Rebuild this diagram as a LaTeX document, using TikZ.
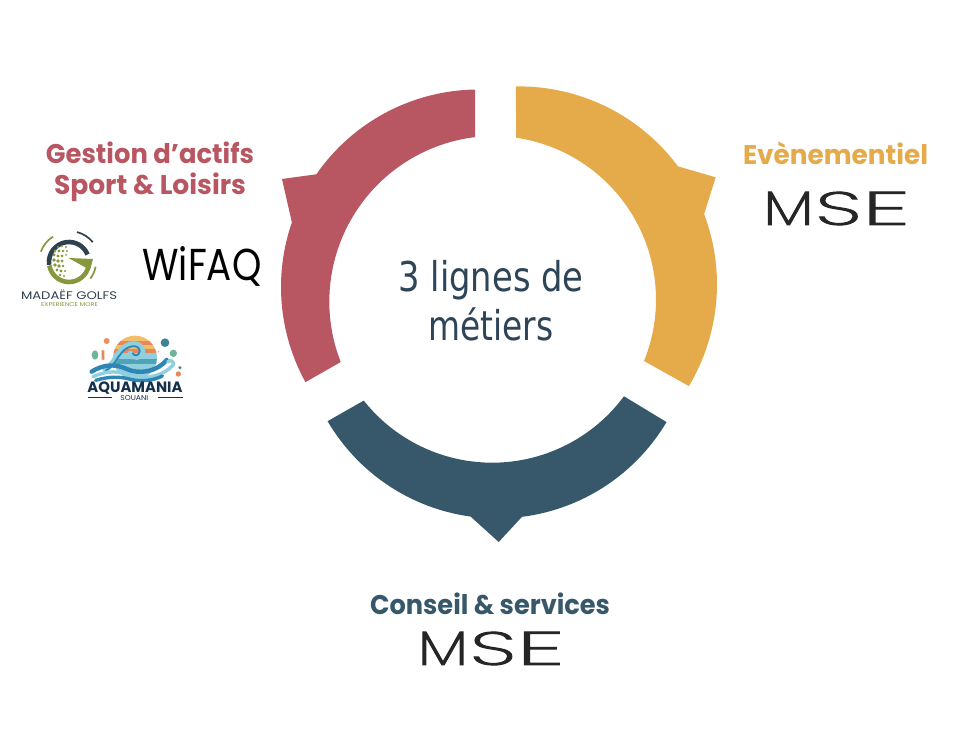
\documentclass[tikz,border=0pt]{standalone}
\usepackage{fontspec}
\usepackage{graphicx}
\newfontfamily\headfont{Poppins}
\newfontfamily\logofont{Poppins ExtraLight}[FakeBold=2]
\newfontfamily\wifont{Poppins}
\newfontfamily\centerfont{DejaVu Sans}
\definecolor{ringred}{HTML}{B85662}
\definecolor{ringorange}{HTML}{E5AA4A}
\definecolor{ringblue}{HTML}{37586B}
\definecolor{slate}{HTML}{2E4457}
\definecolor{olive}{HTML}{87983C}
\definecolor{golfdark}{HTML}{2F4050}
\definecolor{aqdark}{HTML}{14304A}
\definecolor{aqblue}{HTML}{2F86B5}
\definecolor{aqlight}{HTML}{8FD0E0}
\definecolor{aqteal}{HTML}{4FA3B5}
\definecolor{aqorange}{HTML}{E8875A}
\definecolor{aqyellow}{HTML}{F2BE6A}
\definecolor{aqgreen}{HTML}{6DB59A}
\newcommand{\fitw}[2]{\resizebox{#1pt}{\height}{#2}}
\newcommand{\fitwh}[3]{\resizebox{#1pt}{#2pt}{#3}}
\newcommand{\mselogo}{\logofont\fitwh{50}{33}{M}\hspace{2pt}\fitwh{46}{33}{S}\hspace{1pt}\fitwh{47}{33}{E}}
\tikzset{
  head/.style={inner sep=0pt,anchor=center,font=\headfont\bfseries\fontsize{27}{30}\selectfont},
  centertext/.style={inner sep=0pt,anchor=center,text=slate,font=\centerfont\fontsize{41}{46}\selectfont},
  logotext/.style={inner sep=0pt,anchor=center,text=black!85},
  thinarc/.style={line width=1.7pt},
  dot/.style={fill=olive}
}
\begin{document}
\begin{tikzpicture}[x=1pt,y=1pt]
\useasboundingbox (0,0) rectangle (955,740);
\fill[white] (0,0) rectangle (955,740);
% --- ring segments
\coordinate (redOut) at (478.5,453);
\coordinate (redIn) at (495,438.4);
\fill[ringred] (redOut) ++(91:197.5pt) arc[start angle=91,end angle=145.2,radius=197.5pt]
  -- (282,561) -- ([shift={(160.9:197.5pt)}]redOut) arc[start angle=160.9,end angle=208.8,radius=197.5pt]
  -- ([shift={(201.4:165.7pt)}]redIn) arc[start angle=201.4,end angle=96.9,radius=165.7pt] -- cycle;
\coordinate (orgOut) at (519,455.6);
\coordinate (orgIn) at (492.5,440.5);
\fill[ringorange] (orgOut) ++(90.9:198pt) arc[start angle=90.9,end angle=36.6,radius=198pt]
  -- (715.7,562.7) -- ([shift={(20.8:198pt)}]orgOut) arc[start angle=20.8,end angle=-30.9,radius=198pt]
  -- ([shift={(-22.1:163.5pt)}]orgIn) arc[start angle=-22.1,end angle=81.7,radius=163.5pt] -- cycle;
\coordinate (bluOut) at (497.3,418.4);
\coordinate (bluIn) at (492.2,441.2);
\fill[ringblue] (bluOut) ++(210.4:196.8pt) arc[start angle=210.4,end angle=262.2,radius=196.8pt]
  -- (498.7,198) -- ([shift={(277.2:196.8pt)}]bluOut) arc[start angle=277.2,end angle=329.3,radius=196.8pt]
  -- ([shift={(323.5:163.9pt)}]bluIn) arc[start angle=323.5,end angle=218.4,radius=163.9pt] -- cycle;
% --- texts
\node[centertext] (c1) at (491,460) {\fitw{185}{3 lignes de}};
\node[centertext] (c2) at (491,416) {\fitw{125}{métiers}};
\node[head,text=ringred] (h1) at (150,587) {\fitw{208}{Gestion d’actifs}};
\node[head,text=ringred] (h2) at (150,553) {\fitw{192}{Sport \& Loisirs}};
\node[head,text=ringorange] (h3) at (835.5,587) {\fitw{185}{Evènementiel}};
\node[head,text=ringblue] (h4) at (490,136) {\fitw{240}{Conseil \& services}};
% --- MSE logos
\node[logotext] (mse1) at (836.5,531.5) {\mselogo};
\node[logotext] (mse2) at (491,91.5) {\mselogo};
% --- WiFAQ
\node[logotext,text=black] (wifaq) at (202,474) {\wifont\fitwh{119}{34}{WiFAQ}};
% --- Madaef golfs logo
\coordinate (g) at (69,478);
\draw[golfdark,line width=4.6pt] (g) ++(188:20pt) arc[start angle=188,end angle=22,radius=20pt];
\draw[olive,line width=4.6pt] (g) ++(190:20pt) arc[start angle=190,end angle=360,radius=20pt];
\fill[olive] (68.5,482) -- (93,481) -- (90,470) -- cycle;
\draw[golfdark,thinarc] (g) ++(75:31pt) arc[start angle=75,end angle=40,radius=31pt];
\draw[olive,thinarc] (g) ++(122:30pt) arc[start angle=122,end angle=160,radius=30pt];
\draw[olive,thinarc] (g) ++(-10:27pt) arc[start angle=-10,end angle=-38,radius=27pt];
\foreach \x/\y/\r in {58/493/1.2,62/494/1.2,66/493/1.1,55/489/1.5,59/489/1.6,63/489/1.4,67/489/1.1,54/485/1.7,58/484/1.7,62/484/1.5,66/485/1,54/480/1.8,58/479/1.8,62/479/1.5,55/475/1.8,59/474/1.8,63/474/1.4,57/470/1.6,61/469/1.6,65/469/1.2,60/465/1.3,64/464/1.2}
  \fill[dot] (\x,\y) circle[radius=\r pt];
\node[inner sep=0pt,text=golfdark] (madaef) at (69,445.5) {\headfont\fontsize{11}{13}\selectfont\fitw{96}{MADAËF GOLFS}};
\node[inner sep=0pt,text=olive] (exp) at (69.5,435) {\headfont\fontsize{5.5}{6}\selectfont\fitw{57}{EXPERIENCE MORE}};
% --- Aquamania logo
\begin{scope}[shift={(85,410)},x=0.3333pt,y=-0.3333pt]
  \begin{scope}
    \clip (150,83) circle[radius=66];
    \fill[aqyellow] (70,15) rectangle (230,32);
    \fill[aqorange] (70,32) rectangle (230,46);
    \fill[aqyellow] (70,46) rectangle (230,56);
    \fill[aqorange] (70,56) rectangle (230,70);
    \fill[aqlight] (70,70) rectangle (230,86);
    \fill[aqteal] (70,86) rectangle (230,102);
    \fill[aqlight] (70,102) rectangle (230,150);
  \end{scope}
  \fill[aqteal!80!black] (240,38) circle[radius=13];
  \fill[aqgreen] (265,70) circle[radius=11];
  \fill[aqteal!80!black] (285,113) circle[radius=5];
  \fill[aqorange] (280,132) circle[radius=8];
  \fill[aqorange!80!aqyellow] (65,33) circle[radius=9];
  \fill[aqgreen] (30,75) ellipse[x radius=10,y radius=14];
  \fill[aqorange] (50,60) -- (58,62) -- (58,90) -- (50,88) -- cycle;
  \fill[aqorange] (220,65) circle[radius=2];
  % swirl
  \draw[aqlight,line width=5.5pt,line cap=round] (60,118) .. controls (85,105) and (92,80) .. (105,65) .. controls (125,35) and (170,35) .. (172,62) .. controls (172,85) and (142,88) .. (136,70);
  \draw[aqblue,line width=1.8pt,line cap=round] (62,122) .. controls (88,108) and (95,85) .. (110,68) .. controls (128,45) and (162,42) .. (164,62) .. controls (164,78) and (148,80) .. (143,70);
  % bands
  \draw[aqblue,line width=4.4pt,line cap=round] (20,125) .. controls (60,100) and (95,103) .. (125,117) .. controls (160,133) and (215,127) .. (245,90);
  \draw[aqlight,line width=3.4pt,line cap=round] (24,140) .. controls (70,120) and (100,123) .. (135,137) .. controls (175,150) and (232,140) .. (264,106) .. controls (270,96) and (255,86) .. (248,96);
  \draw[aqblue,line width=3.4pt,line cap=round] (32,151) .. controls (75,138) and (110,140) .. (140,149) .. controls (170,155) and (205,152) .. (232,138);
  \node[inner sep=0pt,text=aqdark] (aqua) at (150,174) {\headfont\bfseries\fontsize{15}{18}\selectfont\fitw{95}{AQUAMANIA}};
  \node[inner sep=0pt,text=aqdark] (souani) at (148,205) {\headfont\fontsize{7}{8}\selectfont\fitw{28}{SOUANI}};
  \coordinate (l1a) at (8,203);
  \coordinate (l1b) at (80,203);
  \coordinate (l2a) at (218,203);
  \coordinate (l2b) at (295,203);
  \draw[aqdark,line width=.8pt] (l1a) -- (l1b) (l2a) -- (l2b);
\end{scope}
\end{tikzpicture}
\end{document}
